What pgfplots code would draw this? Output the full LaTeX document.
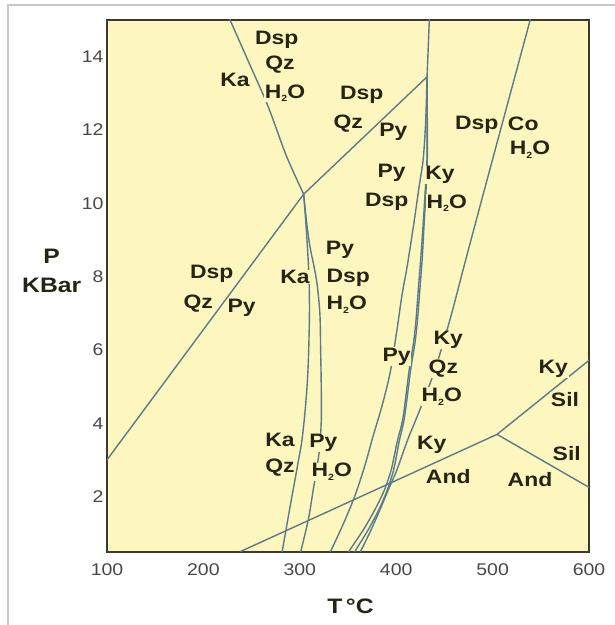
\documentclass[border=0pt]{standalone}
\usepackage{pgfplots}
\pgfplotsset{compat=1.18}
\usepackage{fontspec}
\setmainfont{Liberation Sans}[FakeStretch=1.15]
\newfontfamily\lab{Liberation Sans}[FakeStretch=1.18]
\definecolor{bgy}{RGB}{253,246,190}
\definecolor{lncol}{RGB}{88,124,140}
\definecolor{txt}{RGB}{38,36,22}
\definecolor{frm}{RGB}{60,58,45}
\newcommand{\water}{H\raisebox{-3.5bp}{\fontsize{9}{9}\selectfont 2}O}
\tikzset{lbl/.style={font=\lab\bfseries\fontsize{19.5}{20}\selectfont, text=txt, fill=bgy, inner sep=0.6bp},
  bnd/.style={draw=lncol, line width=1.4bp, mark=none, solid}}
\begin{document}
\begin{tikzpicture}[x=1bp,y=1bp]
\path[use as bounding box] (0,0) rectangle (615,-625);
\draw[black!22, line width=2bp] (7.5,-626) -- (7.5,-5) -- (616,-5);
\begin{axis}[
  at={(107bp,-551.7bp)}, anchor=south west,
  width=482bp, height=531.7bp, scale only axis,
  xmin=100, xmax=600, ymin=0.5, ymax=15,
  xtick={100,200,300,400,500,600}, ytick={2,4,6,8,10,12,14},
  major tick length=0pt,
  axis line style={draw=frm, line width=1.6bp},
  axis background/.style={fill=bgy},
  tick label style={font=\fontsize{17}{18}\selectfont, text=black!72},
  /pgf/number format/assume math mode=true,
  xticklabel style={yshift=-8bp},
]
% Dsp + Qz = Py
\addplot[bnd] coordinates {(99,2.97) (304,10.25) (432,13.45)};
% Ka = Dsp + Qz + H2O
\addplot[bnd, smooth] coordinates {(226,15.1) (247,13.85) (267,12.65) (286,11.3) (304,10.25)};
% Ka + Qz = Py + H2O
\addplot[bnd, smooth] coordinates {(304,10.25) (307,9.2) (309.5,8.0) (310,7.0) (309,5.8) (307.5,5.0) (305,4.2) (302,3.5) (298,2.9) (295,2.46) (290,1.74) (281,0.4)};
% Ka = Py + Dsp + H2O
\addplot[bnd, smooth] coordinates {(304,10.25) (307,9.5) (310.5,8.83) (317.3,7.91) (320.8,7.0) (321.6,6.0) (322.2,5.1) (322.3,4.1) (320,3.2) (314,2.2) (308.8,1.37) (300,0.4)};
% Py = Ky + Qz + H2O
\addplot[bnd, smooth] coordinates {(432,13.45) (430.5,12.2) (428,11.2) (424,10.5) (418,9.4) (411.5,8.3) (406,7.5) (400.8,6.55) (393.6,5.37) (385,4.45) (376,3.65) (367.5,2.85) (357.5,2.05) (345,1.25) (330,0.4)};
% Py + Dsp = Ky + H2O (pair)
\addplot[bnd, smooth] coordinates {(432,13.45) (432,11.3) (430,10.3) (428,9.46) (425.5,8.5) (422.9,7.64) (420.5,6.8) (418,6.2) (413.5,5.46) (407,4.15) (401,3.5) (395,2.75) (388,2.2) (379,1.7) (366,1.1) (348,0.4)};
\addplot[bnd, smooth] coordinates {(432,13.45) (432.3,11.3) (430.8,10.3) (429,9.46) (427,8.5) (424.5,7.64) (422,6.8) (419.5,6.2) (415,5.46) (408.5,4.15) (403,3.5) (397.5,2.75) (391,2.2) (383,1.7) (371,1.1) (354.5,0.4)};
% Dsp + Qz = Ky + H2O
\addplot[bnd] coordinates {(432,13.45) (434.5,15.1)};
% Dsp = Co + H2O
\addplot[bnd, smooth] coordinates {(540,15.1) (512.9,12.46) (486.9,9.92) (470,8.25) (456,6.85) (440,5.45) (425,4.4) (412,3.56) (401,2.75) (392,2.2) (384,1.7) (374,1.1) (361,0.4)};
% Al2SiO5
\addplot[bnd] coordinates {(238,0.5) (504.6,3.7)};
\addplot[bnd] coordinates {(504.6,3.7) (601,5.74)};
\addplot[bnd] coordinates {(504.6,3.7) (601,2.24)};
% labels
\node[lbl] at (axis cs:276,14.46) {Dsp};
\node[lbl] at (axis cs:279.5,13.77) {Qz};
\node[lbl] at (axis cs:284.6,13.01) {\water};
\node[lbl] at (axis cs:232.8,13.36) {Ka};
\node[lbl] at (axis cs:364.2,12.96) {Dsp};
\node[lbl] at (axis cs:350.3,12.18) {Qz};
\node[lbl] at (axis cs:397,11.95) {Py};
\node[lbl] at (axis cs:395.3,10.82) {Py};
\node[lbl] at (axis cs:390.1,10.05) {Dsp};
\node[lbl] at (axis cs:445.4,10.77) {Ky};
\node[lbl] at (axis cs:452.4,10.0) {\water};
\node[lbl] at (axis cs:483.5,12.14) {Dsp};
\node[lbl] at (axis cs:531.8,12.18) {Co};
\node[lbl] at (axis cs:538.8,11.46) {\water};
\node[lbl] at (axis cs:341.7,8.73) {Py};
\node[lbl] at (axis cs:350.3,7.96) {Dsp};
\node[lbl] at (axis cs:348.7,7.23) {\water};
\node[lbl] at (axis cs:295,7.99) {Ka};
\node[lbl] at (axis cs:208.6,8.09) {Dsp};
\node[lbl] at (axis cs:194.7,7.27) {Qz};
\node[lbl] at (axis cs:239.7,7.14) {Py};
\node[lbl] at (axis cs:279.5,3.55) {Ka};
\node[lbl] at (axis cs:279.5,2.78) {Qz};
\node[lbl] at (axis cs:324.4,3.46) {Py};
\node[lbl] at (axis cs:333.1,2.68) {\water};
\node[lbl] at (axis cs:400.5,5.82) {Py};
\node[lbl] at (axis cs:454,6.27) {Ky};
\node[lbl] at (axis cs:448.9,5.5) {Qz};
\node[lbl] at (axis cs:447.2,4.73) {\water};
\node[lbl] at (axis cs:436.8,3.41) {Ky};
\node[lbl] at (axis cs:454,2.55) {And};
\node[lbl] at (axis cs:538.8,2.46) {And};
\node[lbl] at (axis cs:576.9,3.18) {Sil};
\node[lbl] at (axis cs:563,5.5) {Ky};
\node[lbl] at (axis cs:575.1,4.64) {Sil};
\end{axis}
\node[font=\lab\bfseries\fontsize{21}{22}\selectfont, text=txt] at (51.7,-256.7) {P};
\node[font=\lab\bfseries\fontsize{21}{22}\selectfont, text=txt] at (51.7,-285.7) {KBar};
\node[font=\lab\bfseries\fontsize{21}{22}\selectfont, text=txt] at (350.5,-606) {T\,°C};
\end{tikzpicture}
\end{document}
